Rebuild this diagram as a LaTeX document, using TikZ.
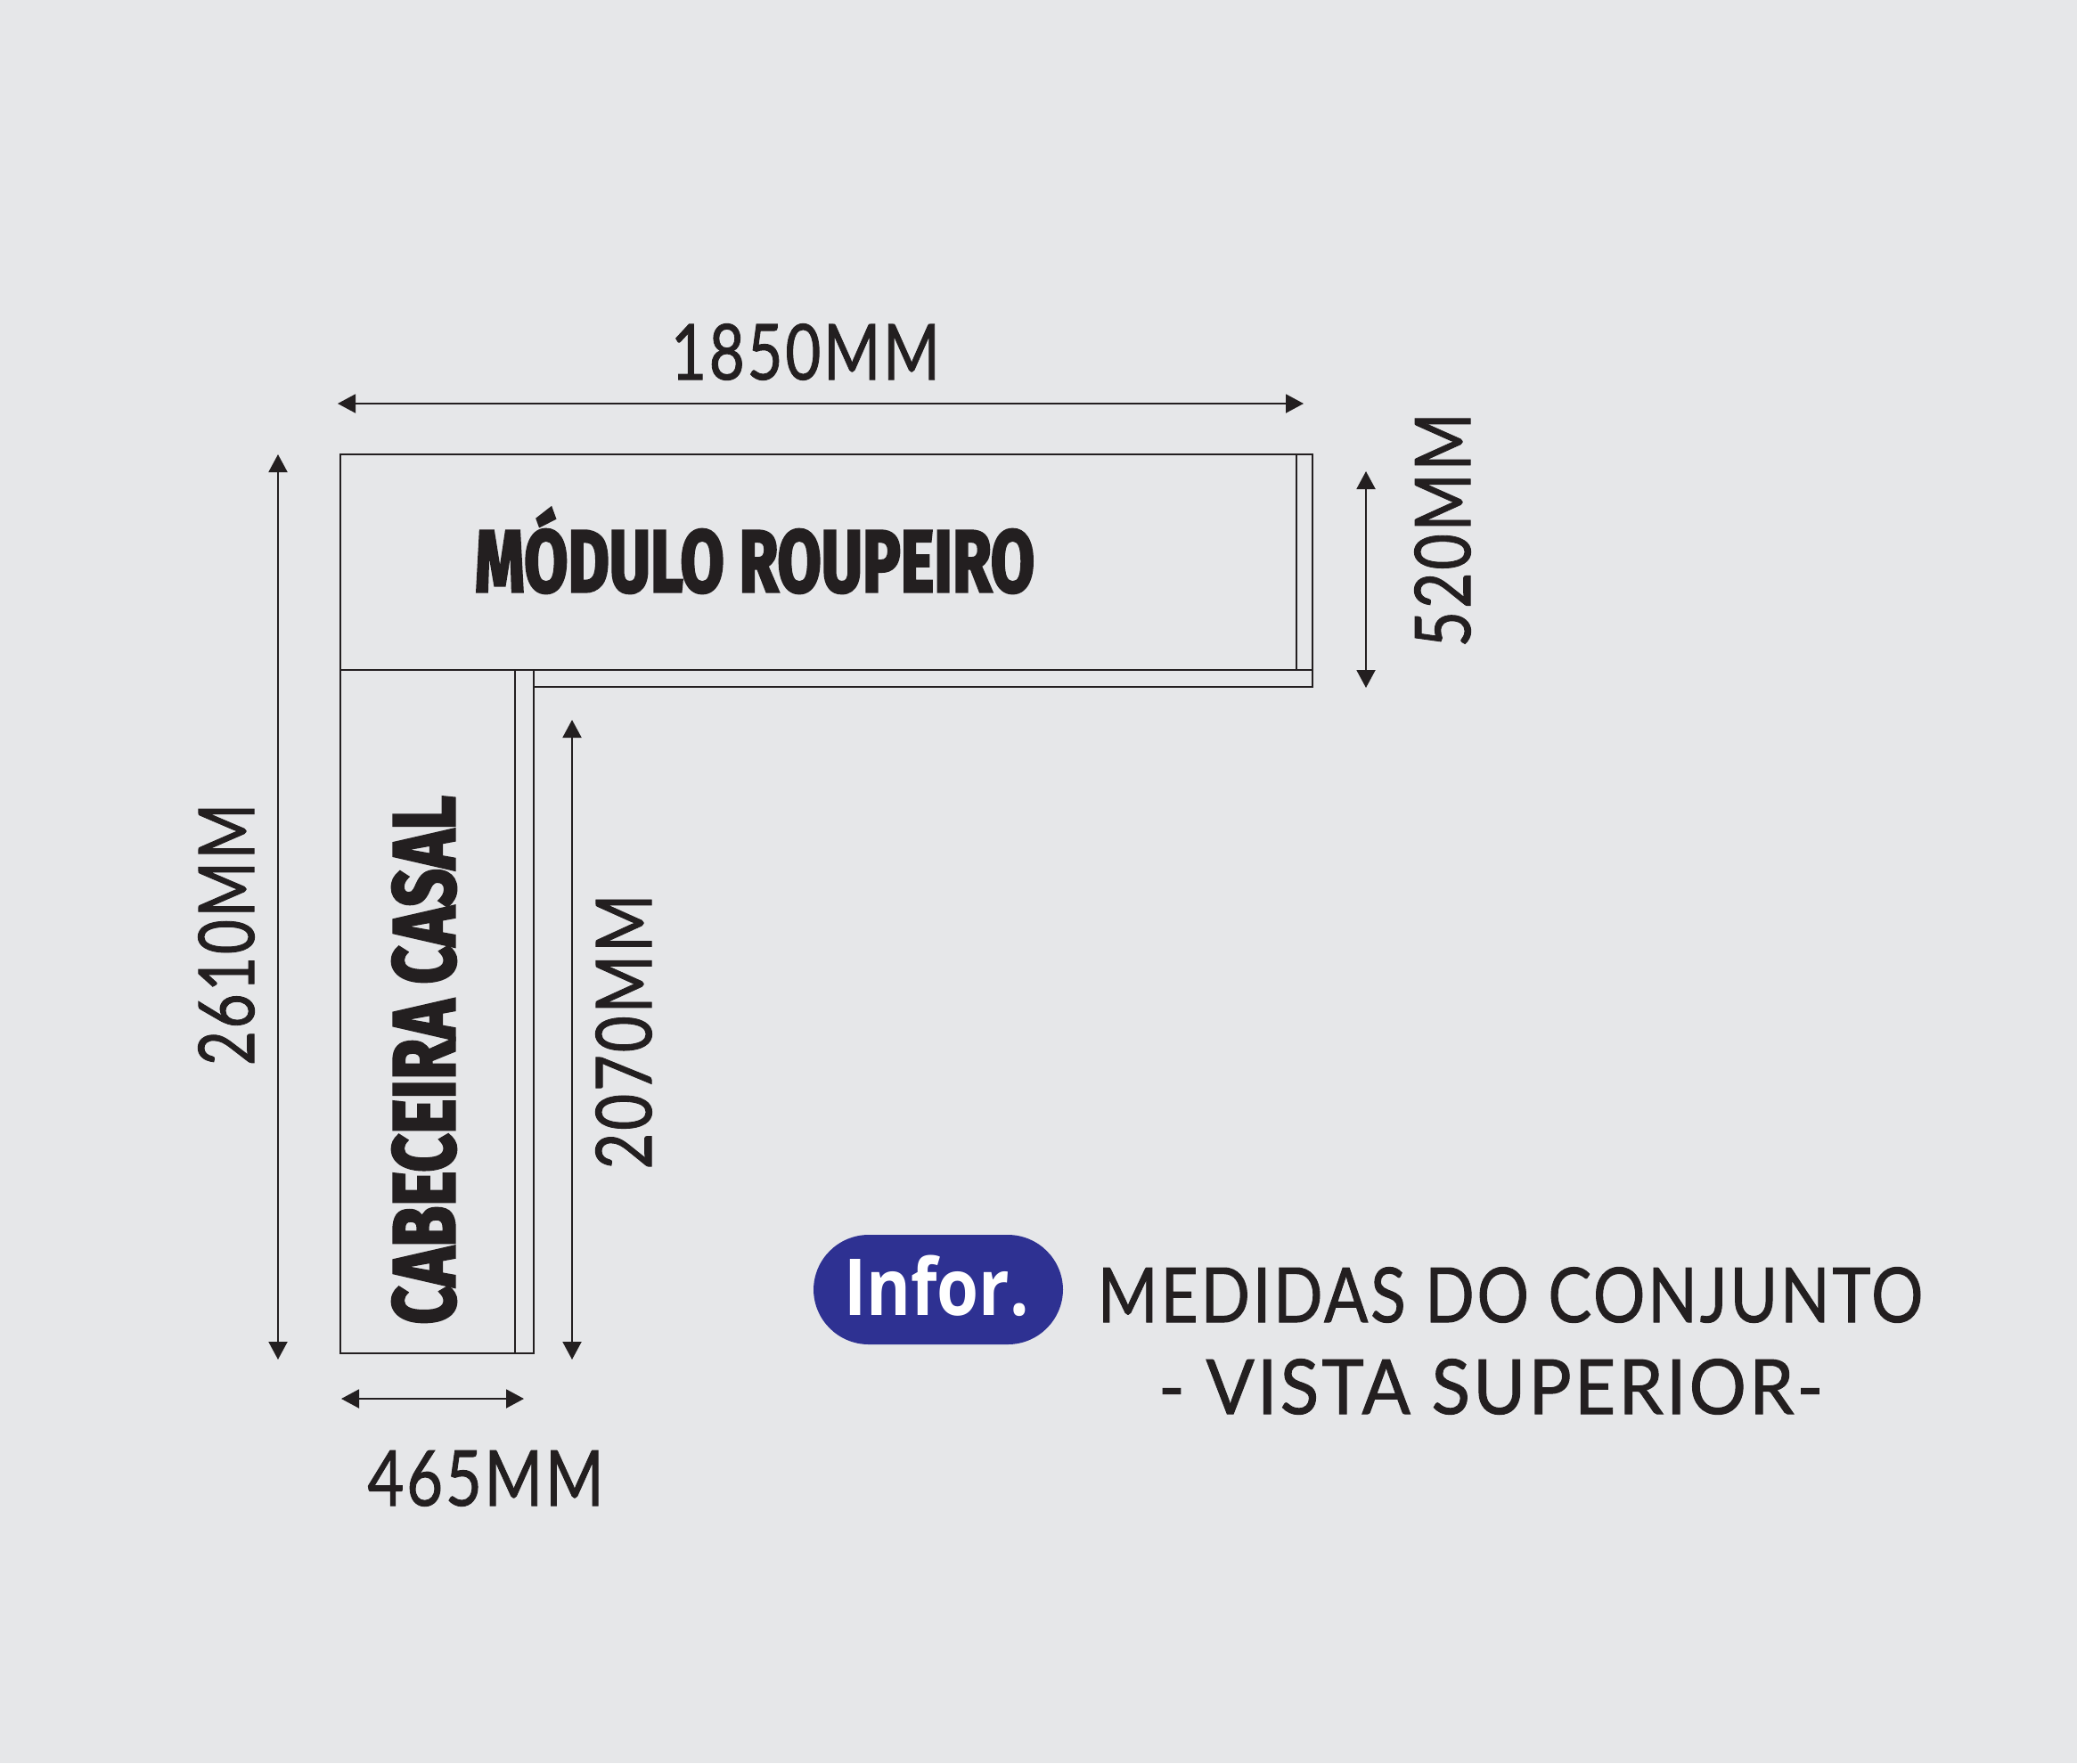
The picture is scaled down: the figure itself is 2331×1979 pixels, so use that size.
\documentclass[tikz,border=0pt]{standalone}
\usepackage{fontspec}
\usepackage{graphicx}
\usetikzlibrary{arrows.meta}
\setmainfont{Lato}
\newfontfamily\dinf{Lato}[FakeBold=1.2,LetterSpace=4]
\newfontfamily\impf{Fira Sans}[FakeBold=3.5]
\newfontfamily\infof{Open Sans}
\definecolor{bgc}{HTML}{E6E7E9}
\definecolor{ink}{HTML}{231F20}
\definecolor{pillc}{HTML}{2E3192}
\newcommand\capfit[4]{\resizebox{#2pt}{#3pt}{#1\setbox0\hbox{H}\raisebox{0pt}[\ht0][0pt]{#4}}}
\newcommand\din[3]{\capfit{\fontsize{60}{60}\selectfont\dinf}{#1}{#2}{#3}}
\newcommand\heavy[3]{\capfit{\fontsize{60}{60}\selectfont\bfseries\impf}{#1}{#2}{#3}}
\tikzset{
  x=1pt,y=-1pt,
  wall/.style={draw=ink,line width=2pt},
  dim/.style={draw=ink,line width=2pt,{Triangle[length=20pt,width=21pt]}-{Triangle[length=20pt,width=21pt]},shorten >=0pt,shorten <=0pt},
  lbl/.style={inner sep=0pt,text=ink},
  vlbl/.style={lbl,rotate=90},
}
\begin{document}
\begin{tikzpicture}
\useasboundingbox (0,0) rectangle (2331,1979);
\fill[bgc] (0,0) rectangle (2331,1979);
% plan
\draw[wall] (382,510) -- (1473,510) -- (1473,771) -- (599,771) -- (599,1519) -- (382,1519) -- cycle;
\draw[wall] (382,752) -- (1473,752);
\draw[wall] (1455,510) -- (1455,752);
\draw[wall] (578,752) -- (578,1519);
\draw[wall] (599,752) -- (599,771);
% dimension ends
\coordinate (topL) at (379,453);   \coordinate (topR) at (1463,453);
\coordinate (rgtT) at (1533,529);  \coordinate (rgtB) at (1533,772);
\coordinate (lftT) at (312,510);   \coordinate (lftB) at (312,1526);
\coordinate (midT) at (642,808);   \coordinate (midB) at (642,1526);
\coordinate (botL) at (383,1570);  \coordinate (botR) at (588,1570);
\draw[dim] (topL) -- (topR);
\draw[dim] (rgtT) -- (rgtB);
\draw[dim] (lftT) -- (lftB);
\draw[dim] (midT) -- (midB);
\draw[dim] (botL) -- (botR);
% dimension labels
\node[lbl] (d1850) at (904,395) {\din{302}{62}{1850MM}};
\node[vlbl] (d520) at (1619,595) {\din{263}{62}{520MM}};
\node[vlbl] (d2610) at (254,1049) {\din{294}{62}{2610MM}};
\node[vlbl] (d2070) at (700,1158) {\din{309}{62}{2070MM}};
\node[lbl] (d465) at (545,1659) {\din{265}{62}{465MM}};
% module names
\node[lbl] (mod) at (847,630) {\heavy{628}{68}{MÓDULO ROUPEIRO}};
\node[vlbl] (cab) at (476,1190) {\heavy{593}{68}{CABECEIRA CASAL}};
% info
\node[fill=pillc,rounded corners=62pt,minimum width=280pt,minimum height=123pt,inner sep=0pt] (pill) at (1053,1447.5) {};
\node[inner sep=0pt,text=white] (infor) at (1051,1444.5) {\capfit{\fontsize{60}{60}\selectfont\bfseries\infof}{208}{63}{Infor.}};
\node[lbl] (med) at (1695,1453.5) {\din{926}{61}{MEDIDAS DO CONJUNTO}};
\node[lbl] (vis) at (1673,1556.5) {\din{746}{61}{- VISTA SUPERIOR-}};
\end{tikzpicture}
\end{document}
